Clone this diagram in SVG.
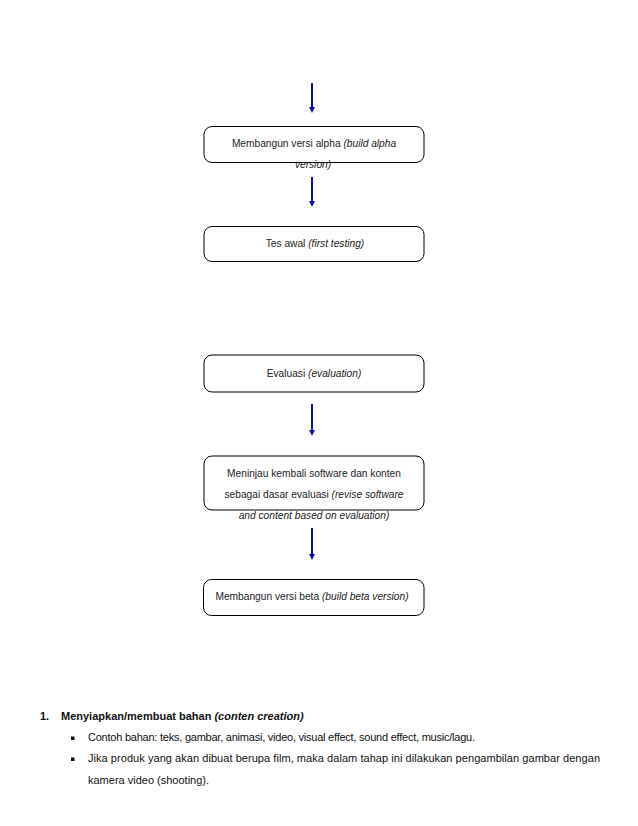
<svg xmlns="http://www.w3.org/2000/svg" width="638" height="826" viewBox="0 0 638 826">
<style>
.box{fill:#fff;stroke:#000;stroke-width:1}
.t{font-family:"Liberation Sans",Arial,sans-serif;font-size:10.2px;fill:#222}
.i{font-style:italic}
.b{font-family:"Liberation Sans",Arial,sans-serif;font-size:11px;fill:#111}
.h{font-family:"Liberation Sans",Arial,sans-serif;font-size:11px;font-weight:bold;fill:#111}
.arr{stroke:#1010a8;stroke-width:2;fill:none}
</style>
<defs>
<marker id="ah" viewBox="0 0 6 6" refX="0" refY="3" markerWidth="6" markerHeight="6" markerUnits="userSpaceOnUse" orient="auto">
<path d="M0,0 L6,3 L0,6 z" fill="#1010a8"/>
</marker>
</defs>
<rect width="638" height="826" fill="#fff"/>
<g id="connectors">
<line class="arr" x1="312" y1="83" x2="312" y2="107" marker-end="url(#ah)"/>
<line class="arr" x1="312" y1="177" x2="312" y2="201" marker-end="url(#ah)"/>
<line class="arr" x1="312" y1="404" x2="312" y2="430" marker-end="url(#ah)"/>
<line class="arr" x1="312" y1="528" x2="312" y2="554" marker-end="url(#ah)"/>
</g>
<g id="n1">
<rect class="box" x="204" y="126.5" width="220" height="36" rx="8"/>
<text class="t" x="314" y="147" text-anchor="middle">Membangun versi alpha <tspan class="i">(build alpha</tspan></text>
<text class="t i" x="313" y="168" text-anchor="middle">version)</text>
</g>
<g id="n2">
<rect class="box" x="204" y="226.5" width="220" height="35" rx="8"/>
<text class="t" x="315" y="246.5" text-anchor="middle">Tes awal <tspan class="i">(first testing)</tspan></text>
</g>
<g id="n3">
<rect class="box" x="204" y="355" width="220" height="37" rx="8"/>
<text class="t" x="314" y="376.5" text-anchor="middle">Evaluasi <tspan class="i">(evaluation)</tspan></text>
</g>
<g id="n4">
<rect class="box" x="204" y="456" width="220" height="54" rx="8"/>
<text class="t" x="314" y="476.5" text-anchor="middle">Meninjau kembali software dan konten</text>
<text class="t" x="314" y="497.5" text-anchor="middle">sebagai dasar evaluasi <tspan class="i">(revise software</tspan></text>
<text class="t i" x="314" y="518.5" text-anchor="middle">and content based on evaluation)</text>
</g>
<g id="n5">
<rect class="box" x="203.5" y="579.5" width="220.5" height="36" rx="8"/>
<text class="t" x="312" y="599.5" text-anchor="middle">Membangun versi beta <tspan class="i">(build beta version)</tspan></text>
</g>
<g id="text-section">
<text class="h" x="40" y="720">1.</text>
<text class="h" x="61" y="720">Menyiapkan/membuat bahan <tspan font-style="italic">(conten creation)</tspan></text>
<rect x="71" y="736.5" width="3.5" height="3.5" fill="#111"/>
<text class="b" x="88" y="741" textLength="387" lengthAdjust="spacing">Contoh bahan: teks, gambar, animasi, video, visual effect, sound effect, music/lagu.</text>
<rect x="71" y="757.5" width="3.5" height="3.5" fill="#111"/>
<text class="b" x="88" y="762" textLength="512" lengthAdjust="spacing">Jika produk yang akan dibuat berupa film, maka dalam tahap ini dilakukan pengambilan gambar dengan</text>
<text class="b" x="88" y="784">kamera video (shooting).</text>
</g>
</svg>
